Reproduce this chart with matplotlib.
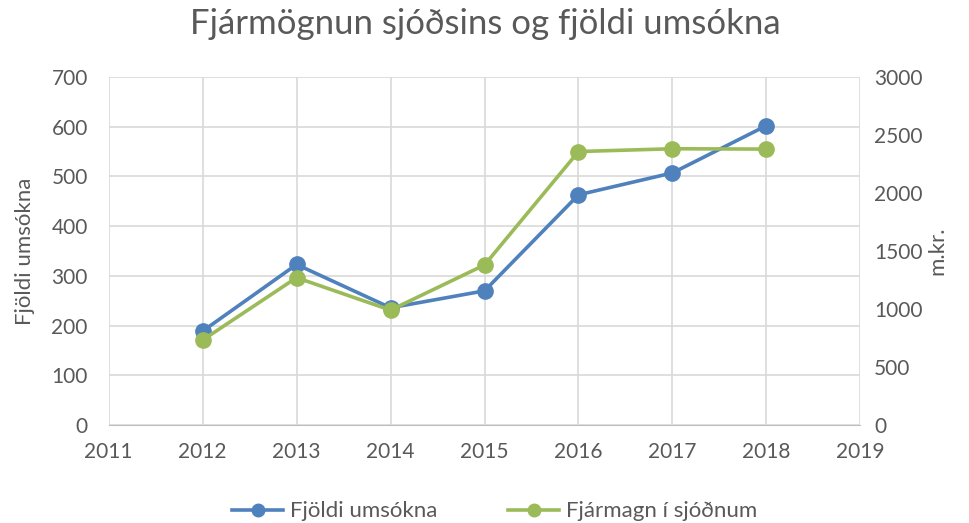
import matplotlib.pyplot as plt
from matplotlib.lines import Line2D

plt.rcParams['font.family'] = ['Lato', 'DejaVu Sans']

years = [2012, 2013, 2014, 2015, 2016, 2017, 2018]
umsoknir = [189, 323, 236, 270, 463, 507, 602]
fjarmagn = [733, 1271, 991, 1380, 2357, 2381, 2378]

blue = '#4F81BD'
green = '#9BBB59'
txt = '#595959'
grid = '#D9D9D9'

fig = plt.figure(figsize=(9.7, 5.23), dpi=100)
ax = fig.add_axes([0.112, 0.187, 0.775, 0.666])
ax2 = ax.twinx()

ax.plot(years, umsoknir, color=blue, lw=2.6, marker='o', ms=11)
ax2.plot(years, fjarmagn, color=green, lw=2.6, marker='o', ms=11)

ax.set_xlim(2011, 2019)
ax.set_ylim(0, 700)
ax2.set_ylim(0, 3000)
ax.set_xticks(range(2011, 2020))
ax.set_yticks(range(0, 701, 100))
ax2.set_yticks(range(0, 3001, 500))

ax.grid(True, color=grid, lw=1.2)
ax.set_axisbelow(True)
for a in (ax, ax2):
    for s in a.spines.values():
        s.set_visible(False)
    a.tick_params(length=0, labelsize=15, colors=txt)
ax.tick_params(axis='x', pad=12)
ax.tick_params(axis='y', pad=15)
ax2.tick_params(axis='y', pad=10)
ax.spines['bottom'].set_visible(True)
ax.spines['bottom'].set_color('#BFBFBF')

ax.set_ylabel('Fjöldi umsókna', fontsize=16, color=txt, labelpad=12)
ax2.set_ylabel('m.kr.', fontsize=16, color=txt, labelpad=3)

fig.suptitle('Fjármögnun sjóðsins og fjöldi umsókna', fontsize=25, color=txt, y=0.985)

handles = [Line2D([], [], color=blue, lw=2.6, marker='o', ms=9),
           Line2D([], [], color=green, lw=2.6, marker='o', ms=9)]
fig.legend(handles, ['Fjöldi umsókna', 'Fjármagn í sjóðnum'], loc='lower center',
           bbox_to_anchor=(0.51, -0.035), ncol=2, frameon=False, fontsize=16,
           labelcolor=txt, handlelength=2.3, handletextpad=0.3, columnspacing=3.2)

fig.savefig('out.png', dpi=100)
